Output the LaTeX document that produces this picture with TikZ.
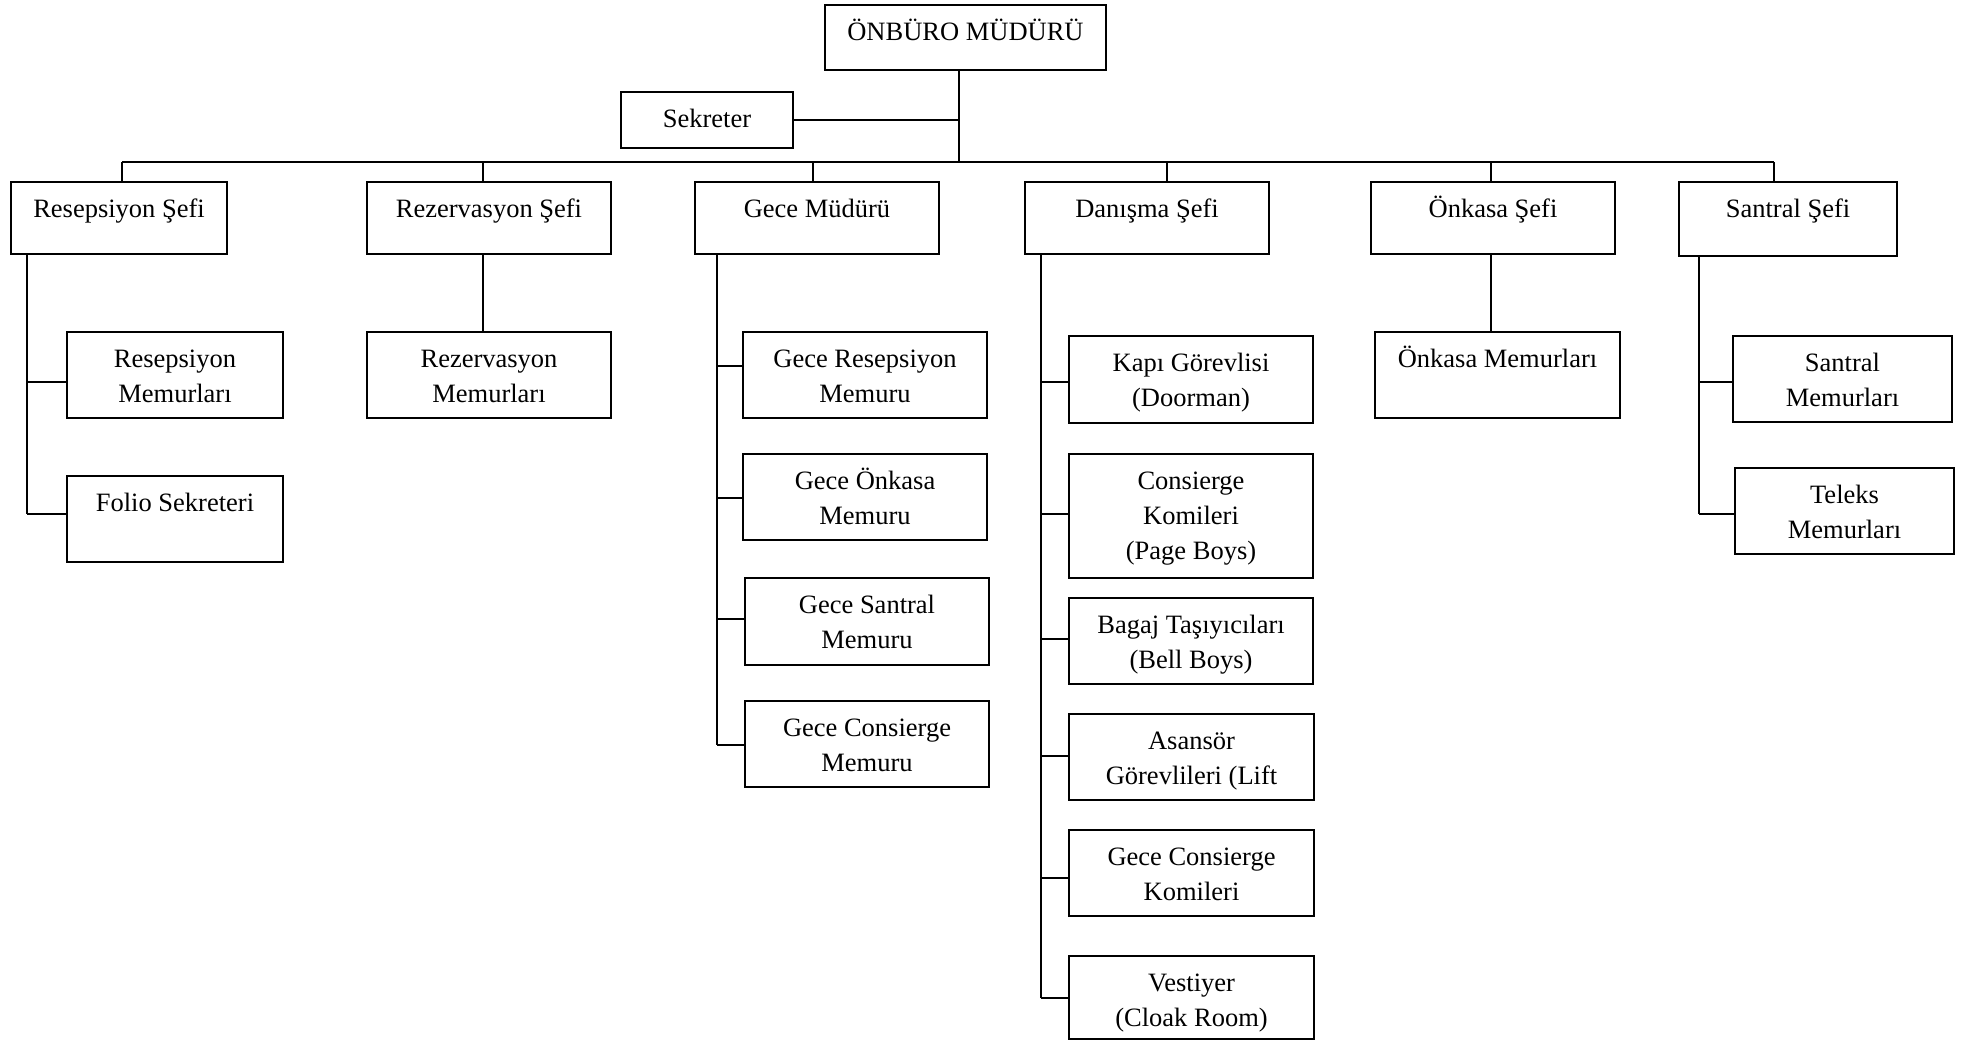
\documentclass[tikz,border=0pt]{standalone}
\usepackage{fontspec}
\setmainfont{Liberation Serif}
\tikzset{
  box/.style={draw, line width=2pt, rectangle, inner sep=0pt, outer sep=0pt},
  boxtext/.style={align=center, inner sep=0pt, font=\fontsize{26.5}{35}\selectfont},
  link/.style={line width=2pt},
}
% name, left, top, right, bottom, text (top aligned, first baseline 35pt below the top edge)
\newcommand{\orgbox}[6]{%
  \node[box, minimum width={(#4-#2)*1pt}, minimum height={(#5-#3)*1pt}, anchor=north west] (#1) at (#2,#3) {};
  \node[boxtext, anchor=north] (#1-t) at ([yshift=-10.5pt]#1.north) {\strut#6};
}
% branch from a vertical feeder to the west side of a box, with a small vertical offset
\newcommand{\branch}[3]{%
  \coordinate (b-#2) at ([yshift=#3]#2.west);
  \draw[link] (#1 |- b-#2) -- (b-#2);
}
\begin{document}
\begin{tikzpicture}[x=1pt,y=-1pt]
\useasboundingbox (0,0) rectangle (1961,1041);

% top management
\orgbox{top}{825}{5}{1106}{70}{ÖNBÜRO MÜDÜRÜ}
\orgbox{sek}{621}{92}{793}{148}{Sekreter}

% department heads
\orgbox{res}{11}{182}{227}{254}{Resepsiyon Şefi}
\orgbox{rez}{367}{182}{611}{254}{Rezervasyon Şefi}
\orgbox{gece}{695}{182}{939}{254}{Gece Müdürü}
\orgbox{dan}{1025}{182}{1269}{254}{Danışma Şefi}
\orgbox{onk}{1371}{182}{1615}{254}{Önkasa Şefi}
\orgbox{san}{1679}{182}{1897}{256}{Santral Şefi}

% staff
\orgbox{resmem}{67}{332}{283}{418}{Resepsiyon\\Memurları}
\orgbox{folio}{67}{476}{283}{562}{Folio Sekreteri}
\orgbox{rezmem}{367}{332}{611}{418}{Rezervasyon\\Memurları}
\orgbox{g1}{743}{332}{987}{418}{Gece Resepsiyon\\Memuru}
\orgbox{g2}{743}{454}{987}{540}{Gece Önkasa\\Memuru}
\orgbox{g3}{745}{578}{989}{665}{Gece Santral\\Memuru}
\orgbox{g4}{745}{701}{989}{787}{Gece Consierge\\Memuru}
\orgbox{d1}{1069}{336}{1313}{423}{Kapı Görevlisi\\(Doorman)}
\orgbox{d2}{1069}{454}{1313}{578}{Consierge\\Komileri\\(Page Boys)}
\orgbox{d3}{1069}{598}{1313}{684}{Bagaj Taşıyıcıları\\(Bell Boys)}
\orgbox{d4}{1069}{714}{1314}{800}{Asansör\\Görevlileri (Lift}
\orgbox{d5}{1069}{830}{1314}{916}{Gece Consierge\\Komileri}
\orgbox{d6}{1069}{956}{1314}{1039}{Vestiyer\\(Cloak Room)}
\orgbox{onkmem}{1375}{332}{1620}{418}{Önkasa Memurları}
\orgbox{s1}{1733}{336}{1952}{422}{Santral\\Memurları}
\orgbox{s2}{1735}{468}{1954}{554}{Teleks\\Memurları}

% bus and drop points
\coordinate (hub) at (959,162);
\coordinate (c-res) at (122,162);
\coordinate (c-rez) at (483,162);
\coordinate (c-gece) at (813,162);
\coordinate (c-dan) at (1167,162);
\coordinate (c-onk) at (1491,162);
\coordinate (c-san) at (1774,162);

\draw[link] (top.south -| hub) -- (hub);
\draw[link] (sek.east) -- (sek.east -| hub);
\draw[link] (c-res) -- (c-san);
\foreach \n in {res,rez,gece,dan,onk,san}
  \draw[link] (c-\n) -- (c-\n |- \n.north);

% single reports
\draw[link] (c-rez |- rez.south) -- (c-rez |- rezmem.north);
\draw[link] (c-onk |- onk.south) -- (c-onk |- onkmem.north);

% reception
\coordinate (rv) at (27,254);
\branch{rv}{resmem}{-7pt}
\branch{rv}{folio}{5pt}
\draw[link] (rv) -- (rv |- b-folio);

% night manager
\coordinate (gv) at (717,254);
\branch{gv}{g1}{9pt}
\branch{gv}{g2}{-1pt}
\branch{gv}{g3}{3pt}
\branch{gv}{g4}{-1pt}
\draw[link] (gv) -- (gv |- b-g4);

% concierge desk
\coordinate (dv) at (1041,254);
\branch{dv}{d1}{-2pt}
\branch{dv}{d2}{2pt}
\branch{dv}{d3}{2pt}
\branch{dv}{d4}{1pt}
\branch{dv}{d5}{-5pt}
\branch{dv}{d6}{0pt}
\draw[link] (dv) -- (dv |- b-d6);

% switchboard
\coordinate (sv) at (1699,256);
\branch{sv}{s1}{-3pt}
\branch{sv}{s2}{-3pt}
\draw[link] (sv) -- (sv |- b-s2);
\end{tikzpicture}
\end{document}
